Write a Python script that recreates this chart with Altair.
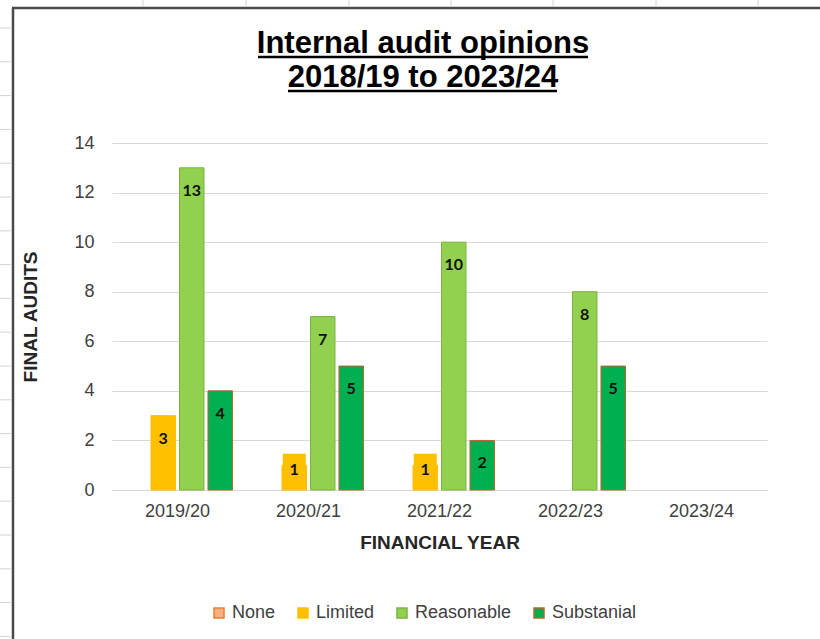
import altair as alt
import pandas as pd

# ---- data ----
years = ["2019/20", "2020/21", "2021/22", "2022/23", "2023/24"]
opinions = ["None", "Limited", "Reasonable", "Substanial"]
none_vals = [0, 0, 0, 0, 0]
limited_vals = [3, 1, 1, 0, 0]
reasonable_vals = [13, 7, 10, 8, 0]
substantial_vals = [4, 5, 2, 5, 0]
y_ticks = [0, 2, 4, 6, 8, 10, 12, 14]
title_lines = ["Internal audit opinions", "2018/19 to 2023/24"]

fills = ["#F4B183", "#FFC000", "#92D050", "#00B050"]
strokes = ["#ED7D31", "#FFC000", "#7CB342", "#B8652B"]

series = {"None": none_vals, "Limited": limited_vals,
          "Reasonable": reasonable_vals, "Substanial": substantial_vals}
rows = []
for op in opinions:
    for yr, v in zip(years, series[op]):
        rows.append({"year": yr, "opinion": op, "value": v})
df = pd.DataFrame(rows)

FONT = "Liberation Sans"

x_enc = alt.X("year:N", scale=alt.Scale(domain=years, paddingInner=0.115, paddingOuter=0.0575),
              sort=years,
              axis=alt.Axis(title="FINANCIAL YEAR", labelAngle=0, ticks=False, grid=False,
                            domain=True, domainColor="#D9D9D9", domainWidth=1,
                            labelFont=FONT, labelFontSize=18, labelColor="#404040", labelPadding=12,
                            titleFont=FONT, titleFontSize=19, titleFontWeight="bold",
                            titleColor="#262626", titlePadding=13))
xoff_enc = alt.XOffset("opinion:N", scale=alt.Scale(domain=opinions, paddingInner=0.14, paddingOuter=0.105))
y_enc = alt.Y("value:Q", scale=alt.Scale(domain=[0, 14], nice=False),
              axis=alt.Axis(title="FINAL AUDITS", values=y_ticks, ticks=False, domain=False,
                            grid=True, gridColor="#D9D9D9", gridWidth=1,
                            labelFont=FONT, labelFontSize=18, labelColor="#404040", labelPadding=18,
                            titleFont=FONT, titleFontSize=19, titleFontWeight="bold",
                            titleColor="#262626", titlePadding=33))

legend = alt.Legend(title=None, orient="none", legendX=98, legendY=461, direction="horizontal",
                    symbolType="square", symbolSize=100, symbolStrokeWidth=1.5,
                    labelFont=FONT, labelFontSize=18, labelColor="#404040", labelOffset=4,
                    columnPadding=18)

bars = alt.Chart(df).transform_filter("datum.value > 0").mark_bar(strokeWidth=1).encode(
    x=x_enc, xOffset=xoff_enc, y=y_enc,
    color=alt.Color("opinion:N", scale=alt.Scale(domain=opinions, range=fills), legend=legend),
    stroke=alt.Stroke("opinion:N", scale=alt.Scale(domain=opinions, range=strokes), legend=legend),
)

label_props = dict(font="Lato", fontWeight="bold", fontSize=16, color="#111111", baseline="middle")

labels_hi = alt.Chart(df).transform_filter("datum.value >= 2").mark_text(dy=23, **label_props).encode(
    x=alt.X("year:N"), xOffset=alt.XOffset("opinion:N"), y=alt.Y("value:Q"), text="value:Q")

label_box = alt.Chart(df).transform_filter(
    "datum.value > 0 && datum.value < 2 && datum.opinion == 'Limited'"
).mark_point(shape="square", filled=True, size=530, color="#FFC000", opacity=1, strokeWidth=0).encode(
    x=alt.X("year:N"), xOffset=alt.XOffset("opinion:N"), y=alt.Y("value:Q"))

labels_lo = alt.Chart(df).transform_filter("datum.value > 0 && datum.value < 2").mark_text(
    dy=5, **label_props).encode(
    x=alt.X("year:N"), xOffset=alt.XOffset("opinion:N"), y=alt.Y("value:Q"), text="value:Q")

# ---- title (two underlined lines) ----
one = alt.Data(values=[{"k": 0}])
t1 = alt.Chart(one).mark_text(text=title_lines[0], font=FONT, fontSize=31, fontWeight="bold",
                              color="black", baseline="alphabetic", align="center").encode(
    x=alt.value(311), y=alt.value(-90))
t2 = alt.Chart(one).mark_text(text=title_lines[1], font=FONT, fontSize=31, fontWeight="bold",
                              color="black", baseline="alphabetic", align="center").encode(
    x=alt.value(311), y=alt.value(-56))
u1 = alt.Chart(one).mark_rule(color="black", strokeWidth=2.5).encode(
    x=alt.value(146), x2=alt.value(476), y=alt.value(-86))
u2 = alt.Chart(one).mark_rule(color="black", strokeWidth=2.5).encode(
    x=alt.value(176), x2=alt.value(445), y=alt.value(-52))

# ---- spreadsheet frame around the chart object ----
frame_l = alt.Chart(one).mark_rule(color="#4A4A4A", strokeWidth=2.5).encode(
    x=alt.value(-99), y=alt.value(-135), y2=alt.value(510))
frame_t = alt.Chart(one).mark_rule(color="#4A4A4A", strokeWidth=2.5).encode(
    x=alt.value(-100), x2=alt.value(720), y=alt.value(-135))
decor = []
for px in [143, 246, 349, 451, 553, 656, 758]:
    decor.append(alt.Chart(one).mark_rule(color="#D4D4D4", strokeWidth=1).encode(
        x=alt.value(px - 112), y=alt.value(-143), y2=alt.value(-137)))
k = 0
while 28 + 33.8 * k < 639:
    py = 28 + 33.8 * k
    decor.append(alt.Chart(one).mark_rule(color="#D4D4D4", strokeWidth=1).encode(
        x=alt.value(-112), x2=alt.value(-101), y=alt.value(py - 143)))
    k += 1

chart = alt.layer(bars, label_box, labels_hi, labels_lo, t1, t2, u1, u2, frame_l, frame_t, *decor).properties(
    width=655, height=347,
    autosize=alt.AutoSizeParams(type="none"),
    padding={"left": 112, "top": 143, "right": 53, "bottom": 149},
    background="white",
).configure_view(stroke=None)

chart.save("out.html", embed_options={"renderer": "svg", "actions": False})
